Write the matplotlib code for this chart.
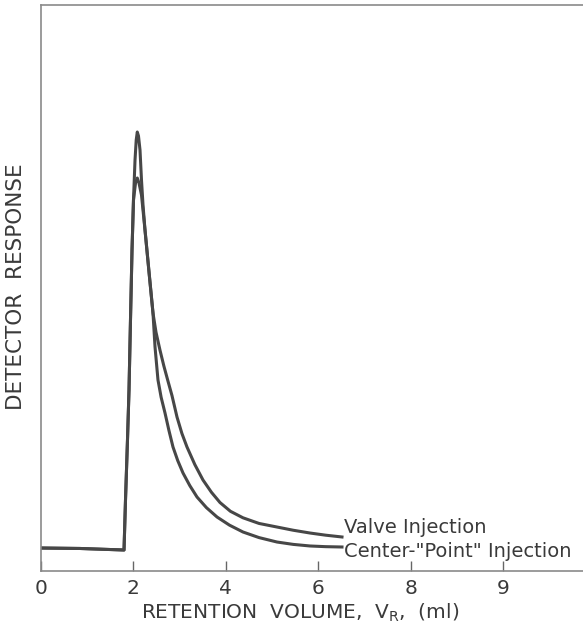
import matplotlib
matplotlib.use("Agg")
import matplotlib.pyplot as plt

# ---- data ----
# Center-"Point" injection (sharper, higher peak, lower tail)
center_x = [0.0, 0.844, 1.797, 1.829, 1.872, 1.905, 1.937, 1.970, 2.002, 2.035, 2.061, 2.084,
            2.110, 2.143, 2.175, 2.208, 2.251, 2.340, 2.424, 2.468, 2.532, 2.600, 2.684, 2.770,
            2.857, 2.960, 3.074, 3.220, 3.377, 3.580, 3.810, 4.080, 4.372, 4.720, 5.108, 5.460,
            5.823, 6.160, 6.515]
center_y = [4.06, 3.98, 3.71, 12.54, 23.14, 31.98, 44.35, 56.71, 65.55, 72.61, 76.15, 77.56,
            76.86, 74.38, 69.08, 64.66, 60.25, 52.65, 45.58, 39.58, 33.75, 30.70, 27.92, 24.80,
            21.91, 19.50, 17.31, 15.10, 13.07, 11.20, 9.54, 8.10, 6.89, 5.90, 5.12, 4.70,
            4.42, 4.30, 4.24]

# Valve injection (lower peak, broader tail)
valve_x = [0.0, 0.844, 1.797, 1.829, 1.872, 1.905, 1.937, 1.970, 2.002, 2.046, 2.084,
           2.121, 2.175, 2.251, 2.340, 2.424, 2.489, 2.576, 2.660, 2.750, 2.835, 2.944,
           3.050, 3.160, 3.330, 3.506, 3.690, 3.874, 4.100, 4.372, 4.720, 5.108, 5.460,
           5.823, 6.160, 6.515]
valve_y = [4.06, 3.98, 3.71, 12.54, 23.14, 31.98, 44.35, 56.71, 65.55, 68.55, 69.43,
           68.55, 66.43, 60.25, 52.65, 45.58, 42.20, 39.00, 36.20, 33.50, 31.00, 27.20,
           24.30, 21.91, 18.80, 16.08, 13.90, 12.10, 10.55, 9.40, 8.40, 7.77, 7.20,
           6.71, 6.33, 6.01]

tick_positions = [0, 2, 4, 6, 8, 10]
tick_labels = ["0", "2", "4", "6", "8", "9"]

label_valve = "Valve Injection"
label_center = 'Center-"Point" Injection'
xlabel = r"RETENTION  VOLUME,  V$_\mathregular{R}$,  (ml)"
ylabel = "DETECTOR  RESPONSE"

# ---- figure ----
W, H = 583, 631
fig = plt.figure(figsize=(W / 100, H / 100), dpi=100)
plt.rcParams["font.family"] = ["DejaVu Sans"]

left_px, bottom_px, top_px = 41, 571, 5
ax = fig.add_axes([left_px / W, 1 - bottom_px / H, 1 - left_px / W, (bottom_px - top_px) / H])
ax.set_xlim(0, (W - left_px) / 46.2)
ax.set_ylim(0, (bottom_px - top_px) / 5.66)

line_color = "#474747"
ax.plot(valve_x, valve_y, color=line_color, lw=2.2, solid_joinstyle="round")
ax.plot(center_x, center_y, color=line_color, lw=2.2, solid_joinstyle="round")

txt_color = "#3a3a3a"
ax.text(6.56, 7.7, label_valve, fontsize=14.0, color=txt_color, va="center", ha="left")
ax.text(6.56, 3.4, label_center, fontsize=14.0, color=txt_color, va="center", ha="left")

for s in ["left", "bottom", "top"]:
    ax.spines[s].set_color("#8a8a8a")
    ax.spines[s].set_linewidth(1.2)
ax.spines["right"].set_visible(False)

ax.set_xticks(tick_positions)
ax.set_xticklabels(tick_labels, fontsize=14.5, color=txt_color)
ax.tick_params(axis="x", direction="in", length=7.5, width=1.0, color="#666666", pad=6)
ax.set_yticks([])

fig.text(300 / W, 1 - 613 / H, xlabel, fontsize=14.5, color=txt_color, ha="center", va="center")
fig.text(16 / W, 1 - 287 / H, ylabel, fontsize=15.5, color=txt_color, ha="center", va="center",
         rotation=90)

fig.savefig("out.png", dpi=100)
